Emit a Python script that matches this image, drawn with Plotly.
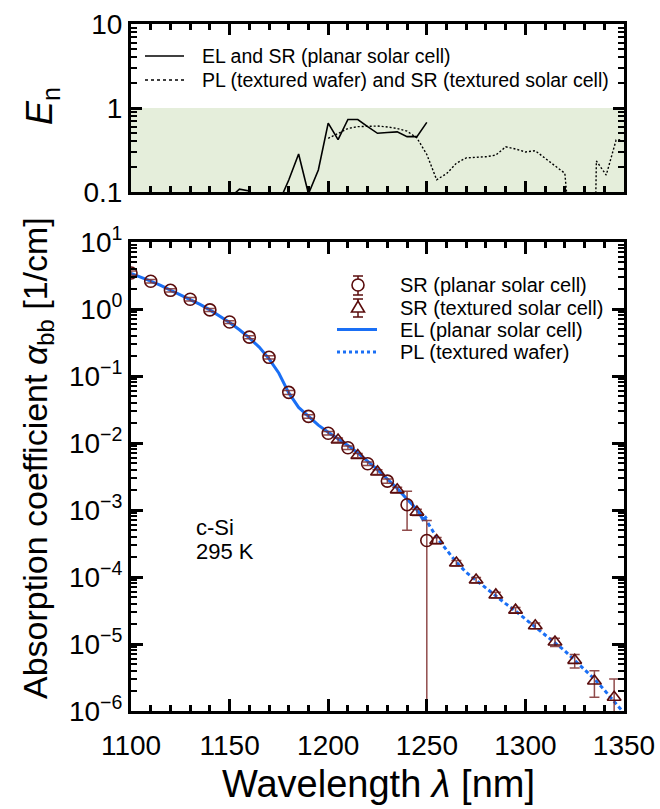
import plotly.graph_objects as go

# ---------------- data ----------------
# SR planar solar cell (circles)
wl_circ = [1100, 1110, 1120, 1130, 1140, 1150, 1160, 1170, 1180, 1190,
           1200, 1210, 1220, 1230, 1240, 1250]
a_circ = [3.45, 2.6, 1.9, 1.4, 0.97, 0.64, 0.38, 0.19, 0.057, 0.025,
          0.014, 0.0085, 0.0049, 0.0027, 0.0012, 0.00035]
err_circ_plus = [0.25, 0.15, 0.1, 0.08, 0.05, 0.03, 0.02, 0.01, 0.004, 0.0015,
                 0.0008, 0.0005, 0.0003, 0.0002, 0.0007, 0.00035]
err_circ_minus = [0.25, 0.15, 0.1, 0.08, 0.05, 0.03, 0.02, 0.01, 0.004, 0.0015,
                  0.0008, 0.0005, 0.0003, 0.0002, 0.0007, 0.00035]

# SR textured solar cell (triangles)
wl_tri = [1205, 1215, 1225, 1235, 1245, 1255, 1265, 1275, 1285, 1295,
          1305, 1315, 1325, 1335, 1345]
a_tri = [0.0111, 0.0065, 0.0037, 0.0020, 0.00093, 0.00035, 1.62e-4, 9.0e-5,
         5.4e-5, 3.2e-5, 1.87e-5, 1.07e-5, 5.7e-6, 2.8e-6, 1.6e-6]
err_tri = [0.0008, 0.0005, 0.0003, 0.00018, 0.0001, 0.00004, 1.5e-5, 8e-6,
           5e-6, 3e-6, 1.8e-6, 1.5e-6, 1.3e-6, 1.2e-6, 1.4e-6]

# EL planar solar cell (solid blue)
wl_el = [1100, 1105, 1110, 1115, 1120, 1125, 1130, 1135, 1140, 1145, 1150,
         1155, 1160, 1165, 1170, 1175, 1180, 1185, 1190, 1195, 1200, 1205,
         1210, 1215, 1220, 1225, 1230, 1235, 1240, 1243, 1246, 1248, 1250]
a_el = [3.41, 3.0, 2.6, 2.25, 1.92, 1.65, 1.4, 1.17, 0.97, 0.79, 0.63,
        0.49, 0.37, 0.27, 0.18, 0.11, 0.056, 0.034, 0.025, 0.0185, 0.0145, 0.0116,
        0.0092, 0.0071, 0.0054, 0.0040, 0.0029, 0.0021, 0.00145, 0.00118, 0.00092,
        0.00072, 0.00080]

# PL textured wafer (dashed blue)
wl_pl = [1246, 1248, 1250, 1255, 1260, 1265, 1270, 1275, 1280, 1285, 1290,
         1295, 1300, 1305, 1310, 1315, 1320, 1325, 1330, 1335, 1340, 1345, 1350]
a_pl = [0.00092, 0.00078, 0.00068, 0.00039, 2.5e-4, 1.66e-4, 1.17e-4, 8.9e-5,
        6.9e-5, 5.2e-5, 4.0e-5, 3.1e-5, 2.36e-5, 1.8e-5, 1.36e-5, 1.03e-5,
        7.9e-6, 5.7e-6, 4.2e-6, 3.0e-6, 2.06e-6, 1.4e-6, 9.3e-7]

# E_n : EL and SR (planar solar cell)
wl_en_el = [1150, 1155, 1160, 1165, 1170, 1175, 1180, 1185, 1190, 1195, 1200,
            1205, 1210, 1215, 1220, 1225, 1230, 1235, 1240, 1245, 1250]
en_el = [0.085, 0.108, 0.103, 0.07, 0.06, 0.075, 0.139, 0.283, 0.095, 0.183,
         0.66, 0.42, 0.73, 0.73, 0.60, 0.50, 0.51, 0.52, 0.456, 0.456, 0.675]

# E_n : PL (textured wafer) and SR (textured solar cell)
wl_en_pl = [1200, 1205, 1210, 1215, 1220, 1225, 1230, 1235, 1240, 1245, 1250,
            1255, 1260, 1265, 1270, 1275, 1280, 1285, 1290, 1295, 1300, 1305,
            1310, 1315, 1320, 1322, 1328, 1335.5, 1336, 1341, 1346, 1349]
en_pl = [0.435, 0.50, 0.57, 0.60, 0.61, 0.61, 0.595, 0.57, 0.53, 0.44, 0.28,
         0.14, 0.165, 0.22, 0.255, 0.258, 0.263, 0.275, 0.345, 0.325, 0.30, 0.31,
         0.255, 0.205, 0.167, 0.05, None, 0.05, 0.234, 0.159, 0.416, 0.42]

# tick labels
x_ticks = [1100, 1150, 1200, 1250, 1300, 1350]
y_ticks_top = [0.1, 1, 10]
y_ticktext_top = ["0.1", "1", "10"]
y_ticks_bot = [1e1, 1e0, 1e-1, 1e-2, 1e-3, 1e-4, 1e-5, 1e-6]
y_ticktext_bot = ["10<sup>1</sup>", "10<sup>0</sup>", "10<sup>−1</sup>",
                  "10<sup>−2</sup>", "10<sup>−3</sup>", "10<sup>−4</sup>",
                  "10<sup>−5</sup>", "10<sup>−6</sup>"]

# legend labels
leg_top = ["EL and SR (planar solar cell)",
           "PL (textured wafer) and SR (textured solar cell)"]
leg_bot = ["SR (planar solar cell)", "SR (textured solar cell)",
           "EL (planar solar cell)", "PL (textured wafer)"]

# ---------------- style ----------------
FONT = "Liberation Sans, Arial, Helvetica, sans-serif"
BLUE = "#1a6ff5"
MAROON = "#5a0c0c"
ERRC = "rgba(125,45,45,0.85)"
W, H = 660, 809


def px_x(p):
    return p / W


def px_y(p):
    return 1 - p / H


xdom = [px_x(131), px_x(624)]

fig = go.Figure()

# top panel
fig.add_trace(go.Scatter(x=wl_en_el, y=en_el, mode="lines", xaxis="x", yaxis="y",
                         line=dict(color="black", width=1.6), name=leg_top[0]))
fig.add_trace(go.Scatter(x=wl_en_pl, y=en_pl, mode="lines", xaxis="x", yaxis="y",
                         line=dict(color="black", width=1.4, dash="2px,2px"),
                         connectgaps=False, name=leg_top[1]))

# bottom panel
fig.add_trace(go.Scatter(x=wl_el, y=a_el, mode="lines", xaxis="x2", yaxis="y2",
                         line=dict(color=BLUE, width=3), name=leg_bot[2]))
fig.add_trace(go.Scatter(x=wl_pl, y=a_pl, mode="lines", xaxis="x2", yaxis="y2",
                         line=dict(color=BLUE, width=3, dash="4px,3px"),
                         name=leg_bot[3]))
fig.add_trace(go.Scatter(x=wl_circ, y=a_circ, mode="markers", xaxis="x2", yaxis="y2",
                         marker=dict(symbol="circle-open", size=12, color=MAROON,
                                     line=dict(width=1.6, color=MAROON)),
                         error_y=dict(type="data", array=err_circ_plus,
                                      arrayminus=err_circ_minus, symmetric=False,
                                      color=ERRC, thickness=1.5, width=5),
                         name=leg_bot[0]))
fig.add_trace(go.Scatter(x=wl_tri, y=a_tri, mode="markers", xaxis="x2", yaxis="y2",
                         marker=dict(symbol="triangle-up-open", size=12, color=MAROON,
                                     line=dict(width=1.6, color=MAROON)),
                         error_y=dict(type="data", array=err_tri,
                                      color=ERRC, thickness=1.5, width=5),
                         name=leg_bot[1]))

minor_vals = [m * 10 ** e for e in range(-7, 2) for m in range(2, 10)]

axis_common = dict(showline=True, linecolor="black", linewidth=3, mirror="allticks",
                   ticks="inside", tickcolor="black", tickwidth=2.5, showgrid=False,
                   zeroline=False, automargin=False,
                   tickfont=dict(family=FONT, size=28, color="black"))

# ---------- legend keys (decoration drawn as layout shapes) ----------
shapes = [dict(type="rect", xref="x domain", yref="y domain", x0=0, x1=1, y0=0, y1=0.5,
               fillcolor="#e5eedb", line=dict(width=0), layer="below")]


def hline(x0, x1, y, color, width, dash="solid"):
    return dict(type="line", xref="paper", yref="paper", x0=px_x(x0), x1=px_x(x1),
                y0=px_y(y), y1=px_y(y), line=dict(color=color, width=width, dash=dash))


def vline(x, y0, y1, color, width):
    return dict(type="line", xref="paper", yref="paper", x0=px_x(x), x1=px_x(x),
                y0=px_y(y0), y1=px_y(y1), line=dict(color=color, width=width))


# top legend keys
shapes.append(hline(145, 184, 56, "black", 1.6))
shapes.append(hline(145, 184, 80, "black", 1.4, "dot"))
# bottom legend keys
cx = 358
for (yc, ytop, ybot) in [(285, 276, 295), (307, 299, 317)]:
    shapes.append(vline(cx, ytop, ybot, MAROON, 1.5))
    shapes.append(hline(cx - 5, cx + 5, ytop, MAROON, 1.5))
    shapes.append(hline(cx - 5, cx + 5, ybot, MAROON, 1.5))
shapes.append(dict(type="circle", xref="paper", yref="paper", x0=px_x(cx - 6),
                   x1=px_x(cx + 6), y0=px_y(291), y1=px_y(279),
                   line=dict(color=MAROON, width=1.6), fillcolor="white"))
tri = "M {a},{b} L {c},{d} L {e},{f} Z".format(
    a=px_x(cx - 6.5), b=px_y(312), c=px_x(cx + 6.5), d=px_y(312),
    e=px_x(cx), f=px_y(301))
shapes.append(dict(type="path", xref="paper", yref="paper", path=tri,
                   line=dict(color=MAROON, width=1.6), fillcolor="white"))
shapes.append(hline(337, 377, 329.5, BLUE, 3))
shapes.append(hline(337, 377, 352, BLUE, 3, "dot"))

annotations = []
for txt, yc in zip(leg_top, [56, 80]):
    annotations.append(dict(text=txt, xref="paper", yref="paper", x=px_x(200),
                            y=px_y(yc), xanchor="left", yanchor="middle",
                            showarrow=False,
                            font=dict(family=FONT, size=19.5, color="black")))
for txt, yc in zip(leg_bot, [285, 308, 330, 352]):
    annotations.append(dict(text=txt, xref="paper", yref="paper", x=px_x(398),
                            y=px_y(yc), xanchor="left", yanchor="middle",
                            showarrow=False,
                            font=dict(family=FONT, size=20, color="black")))

annotations += [
    dict(text="c-Si", xref="paper", yref="paper", x=px_x(194), y=px_y(527),
         xanchor="left", yanchor="middle", showarrow=False,
         font=dict(family=FONT, size=22, color="black")),
    dict(text="295 K", xref="paper", yref="paper", x=px_x(194), y=px_y(551),
         xanchor="left", yanchor="middle", showarrow=False,
         font=dict(family=FONT, size=22, color="black")),
    dict(text="Wavelength <i>λ</i> [nm]", xref="paper", yref="paper",
         x=px_x(378), y=px_y(784), xanchor="center", yanchor="middle",
         showarrow=False, font=dict(family=FONT, size=38, color="black")),
    dict(text="Absorption coefficient <i>α</i><sub>bb</sub> [1/cm]", xref="paper",
         yref="paper", x=px_x(37), y=px_y(458), xanchor="center", yanchor="middle",
         textangle=-90, showarrow=False,
         font=dict(family=FONT, size=34, color="black")),
    dict(text="<i>E</i><sub>n</sub>", xref="paper", yref="paper",
         x=px_x(42), y=px_y(106), xanchor="center", yanchor="middle",
         textangle=-90, showarrow=False,
         font=dict(family=FONT, size=36, color="black")),
]

fig.update_layout(
    width=W, height=H,
    margin=dict(l=0, r=0, t=0, b=0),
    paper_bgcolor="white", plot_bgcolor="white",
    font=dict(family=FONT, color="black"),
    showlegend=False,
    xaxis=dict(domain=xdom, anchor="y", range=[1100, 1350], tickvals=x_ticks,
               showticklabels=False, ticklen=11,
               minor=dict(ticks="inside", dtick=10, tick0=1100, ticklen=6,
                          tickwidth=2.5, tickcolor="black"),
               **axis_common),
    yaxis=dict(domain=[px_y(192), px_y(24)], anchor="x", type="log", range=[-1, 1],
               tickvals=y_ticks_top, ticktext=y_ticktext_top, ticklen=11,
               minor=dict(ticks="inside", tickmode="array", tickvals=minor_vals,
                          ticklen=6, tickwidth=2, tickcolor="black"),
               **axis_common),
    xaxis2=dict(domain=xdom, anchor="y2", range=[1100, 1350], tickvals=x_ticks,
                ticklen=12, matches="x", ticklabelstandoff=7,
                minor=dict(ticks="inside", dtick=10, tick0=1100, ticklen=6,
                           tickwidth=2.5, tickcolor="black"),
                **axis_common),
    yaxis2=dict(domain=[px_y(711), px_y(242)], anchor="x2", type="log", range=[-6, 1],
                tickvals=y_ticks_bot, ticktext=y_ticktext_bot, ticklen=12,
                minor=dict(ticks="inside", tickmode="array", tickvals=minor_vals,
                           ticklen=6, tickwidth=2, tickcolor="black"),
                **axis_common),
    shapes=shapes,
    annotations=annotations,
)

fig.write_html("out.html", config={"displayModeBar": False},
               post_script="document.body.style.margin='0px';"
                           "document.body.style.overflow='hidden';")
